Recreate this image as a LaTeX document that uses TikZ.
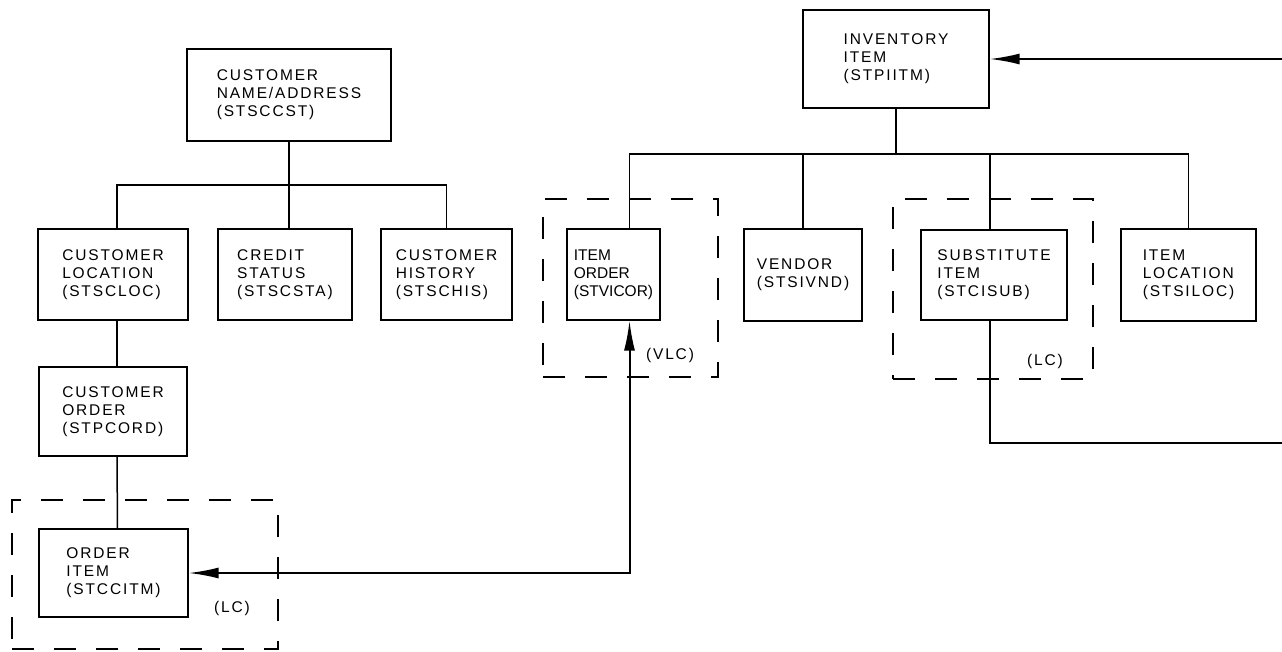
\documentclass[tikz,border=0pt]{standalone}
\usepackage{fontspec}
\usetikzlibrary{arrows.meta}
\newfontfamily\chartfont[LetterSpace=12]{Liberation Sans}
\newfontfamily\tightfont{Liberation Sans}
\newcommand{\chartsize}{\chartfont\fontsize{15.5}{18}\selectfont}
\newcommand{\tightsize}{\tightfont\fontsize{15.5}{18}\selectfont}

\begin{document}
\begin{tikzpicture}[x=1pt, y=-1pt,
    rec/.style={draw, line width=1.3pt, align=left, font=\chartsize, inner sep=0pt},
    group/.style={draw, line width=1.3pt, dash pattern=on 22pt off 20pt, inner sep=0pt},
    tag/.style={font=\chartsize, inner sep=0pt},
    link/.style={line width=1.5pt},
    ptr/.style={line width=2pt, -{Latex[length=30pt, width=11pt]}},
    dualptr/.style={line width=2pt, {Latex[length=30pt, width=11pt]}-{Latex[length=30pt, width=11pt]}}]
    \useasboundingbox (0,0) rectangle (1282,652);

    % Draw dashed groups
    \node[group, minimum width=266pt, minimum height=149pt] (ogroup) at (145,574.5) {};
    \node[group, minimum width=175pt, minimum height=178pt] (igroup) at (630.5,288) {};
    \node[group, minimum width=200pt, minimum height=180pt] (sgroup) at (993,289) {};

    % Draw customer nodes
    \node[rec, minimum width=204pt, minimum height=92pt] (cname) at (289,95) {CUSTOMER\\NAME/ADDRESS\\(STSCCST)};
    \node[rec, minimum width=150pt, minimum height=91pt] (cloc) at (113,274.5) {CUSTOMER\\LOCATION\\(STSCLOC)};
    \node[rec, minimum width=134pt, minimum height=91pt] (credit) at (285,274.5) {CREDIT\\STATUS\\(STSCSTA)};
    \node[rec, minimum width=131pt, minimum height=91pt] (chist) at (446.5,274.5) {CUSTOMER\\HISTORY\\(STSCHIS)};
    \node[rec, minimum width=148pt, minimum height=89pt] (corder) at (113,411.5) {CUSTOMER\\ORDER\\(STPCORD)};
    \node[rec, minimum width=149pt, minimum height=88pt] (oitem) at (113.5,573) {ORDER\\ITEM\\(STCCITM)};

    % Draw inventory nodes
    \node[rec, minimum width=186pt, minimum height=98pt] (inv) at (896,59) {INVENTORY\\ITEM\\(STPIITM)};
    \node[rec, font=\tightsize, minimum width=93pt, minimum height=91pt] (iorder) at (613.5,274.5) {ITEM\\ORDER\\(STVICOR)};
    \node[rec, minimum width=118pt, minimum height=92pt] (vendor) at (803,275) {VENDOR\\(STSIVND)};
    \node[rec, minimum width=146pt, minimum height=90pt] (subst) at (994,275) {SUBSTITUTE\\ITEM\\(STCISUB)};
    \node[rec, minimum width=135pt, minimum height=92pt] (iloc) at (1188.5,275) {ITEM\\LOCATION\\(STSILOC)};

    % Labels
    \node[tag] (olc) at (232,608) {(LC)};
    \node[tag] (vlc) at (670,355) {(VLC)};
    \node[tag] (slc) at (1045,361) {(LC)};

    % Draw connections
    \coordinate (lbus) at (289,185);
    \coordinate (rbus) at (896,154);
    \draw[link] ([xshift=4pt]cloc.north) |- (lbus) -| (chist.north);
    \draw[link] (cname.south) -- (cname.south |- credit.north);
    \draw[link] ([xshift=4pt]cloc.south) -- ([xshift=4pt]corder.north);
    \draw[link] ([xshift=4pt]corder.south) -- ([xshift=4pt]oitem.north);
    \draw[link] ([xshift=16pt]iorder.north) |- (rbus) -| (iloc.north);
    \draw[link] (inv.south) -- (rbus);
    \draw[link] (vendor.north) -- (vendor.north |- rbus);
    \draw[link] ([xshift=-4pt]subst.north) -- ([xshift=-4pt]subst.north |- rbus);

    % Draw pointers
    \coordinate (subout) at (1282,443);
    \coordinate (invin) at (1282,59);
    \draw[link] ([xshift=-4pt]subst.south) |- (subout);
    \draw[ptr] (invin) -- (inv.east);
    \draw[dualptr] ([xshift=16pt]iorder.south) |- (oitem.east);
\end{tikzpicture}
\end{document}
